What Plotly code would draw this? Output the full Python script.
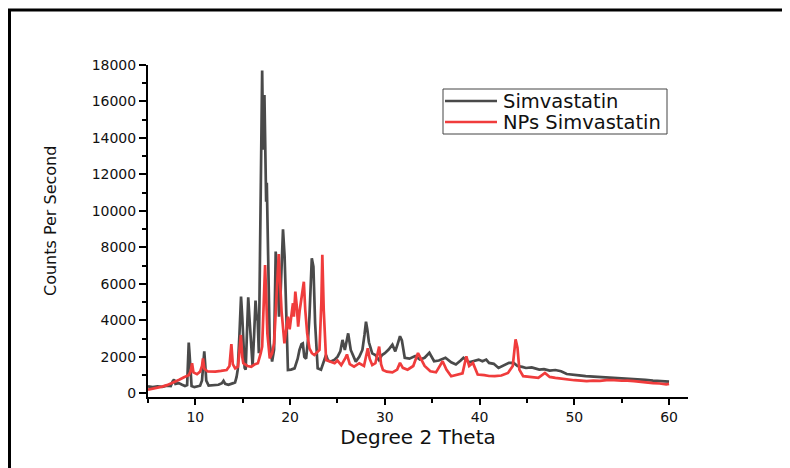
import plotly.graph_objects as go

# ---- data ----
simva_x = [5.0, 5.5, 6.0, 6.5, 7.0, 7.4, 7.6, 7.75, 7.9, 8.25, 8.6, 8.9, 9.13, 9.22, 9.30, 9.38, 9.48, 9.6, 9.9,
           10.17, 10.5, 10.7, 10.85, 10.94, 11.05, 11.15, 11.4, 11.8, 12.44, 12.8, 12.97, 13.15, 13.49, 14.0, 14.19,
           14.35, 14.47, 14.65, 14.82, 14.95, 15.06, 15.2, 15.31, 15.45, 15.58, 15.7, 15.83, 16.04, 16.2, 16.35,
           16.5, 16.56, 16.70, 16.84, 16.95, 17.05, 17.12, 17.19, 17.29, 17.40, 17.47, 17.54, 17.68, 17.85, 18.10,
           18.31, 18.48, 18.58, 18.66, 18.83, 19.01, 19.25, 19.42, 19.60, 19.77, 20.1, 20.47, 20.8, 20.99, 21.2,
           21.34, 21.5, 21.69, 21.9, 22.04, 22.29, 22.46, 22.64, 22.91, 23.26, 23.5, 23.79, 24.0, 24.31, 24.7,
           25.01, 25.3, 25.53, 25.78, 26.0, 26.13, 26.40, 26.93, 27.3, 27.63, 27.85, 28.01, 28.15, 28.32, 28.67,
           29.0, 29.37, 29.7, 30.0, 30.4, 30.8, 31.1, 31.35, 31.6, 31.8, 32.1, 32.6, 33.2, 33.7, 34.2, 34.7, 35.2,
           35.7, 36.4, 37.0, 37.5, 38.0, 38.3, 38.9, 39.5, 39.9, 40.3, 40.7, 41.0, 41.5, 42.0, 42.5, 43.1, 43.6,
           44.0, 44.5, 44.9, 45.5, 46.3, 46.8, 47.4, 48.0, 48.6, 49.2, 49.8, 50.5, 51.2, 52.0, 52.8, 53.6, 54.4,
           55.2, 56.0, 56.8, 57.5, 58.3, 58.9, 59.5, 60.0]
simva_y = [380, 340, 390, 360, 420, 400, 650, 760, 520, 560, 470, 400, 450, 1500, 2780, 2200, 1000, 400, 340,
           370, 420, 700, 1900, 2300, 1500, 700, 420, 440, 470, 560, 690, 520, 470, 560, 600,
           900, 1300, 3200, 5300, 4200, 2400, 1400, 1300, 3000, 5270, 4200, 2900, 1500, 3200, 5080,
           4000, 4300, 2200, 9140, 14500, 17700, 15000, 13350, 16360, 11520, 10500, 11550, 7130, 2740, 1740,
           2400, 7770, 6800, 7130, 4200, 5670, 8990, 7500, 3660, 1280, 1300, 1370, 1900, 2380, 2700,
           2740, 2000, 1900, 3000, 4200, 7400, 6950, 3840, 1370, 1300, 1700, 2100, 1800, 1750, 1850,
           2010, 2300, 2930, 2380, 2900, 3290, 2380, 1740, 2000, 2380, 3200, 3930, 3500, 2800, 2190,
           2100, 1830, 2100, 2200, 2400, 2670, 2300, 2700, 3130, 2900, 1950, 1900, 2040, 1850, 1950, 2220, 1760,
           1800, 1950, 1700, 1580, 1800, 1950, 1700, 1800, 1850, 1760, 1850, 1670, 1620, 1390, 1500, 1670, 1670,
           1500, 1450, 1390, 1420, 1300, 1330, 1250, 1280, 1210, 1060, 1040, 990, 940, 920, 890, 850, 840,
           800, 790, 790, 740, 700, 690, 660, 640]

nps_x = [5.0, 5.5, 6.0, 6.5, 7.0, 7.5, 7.9, 8.3, 8.8, 9.3, 9.5, 9.65, 9.8, 10.17, 10.5, 10.7, 10.8, 10.95, 11.3,
         12.1, 12.7, 13.3, 13.6, 13.8, 13.95, 14.2, 14.5, 14.65, 14.8, 14.95, 15.06, 15.5, 15.9, 16.3, 16.6, 16.9,
         17.05, 17.19, 17.36, 17.5, 17.6, 17.85, 18.1, 18.31, 18.5, 18.66, 18.8, 18.95, 19.1, 19.4, 19.6, 19.77,
         19.95, 20.15, 20.3, 20.4, 20.55, 20.7, 20.85, 21.0, 21.15, 21.3, 21.45, 21.6, 21.8, 22.04, 22.3, 22.56,
         22.9, 23.1, 23.3, 23.4, 23.55, 23.8, 24.2, 24.7, 25.0, 25.4, 25.8, 26.0, 26.3, 26.75, 27.3, 27.8, 28.2,
         28.4, 28.67, 29.0, 29.4, 29.6, 29.8, 30.2, 30.8, 31.3, 31.6, 31.9, 32.4, 33.0, 33.5, 33.8, 34.2, 34.8,
         35.4, 36.1, 36.5, 37.0, 37.6, 38.2, 38.6, 38.9, 39.3, 39.8, 40.5, 41.0, 41.6, 42.3, 43.0, 43.5, 43.8,
         44.0, 44.2, 44.6, 45.3, 46.2, 46.9, 47.4, 48.0, 48.6, 49.2, 50.0, 50.7, 51.3, 52.0, 52.7, 53.4, 54.2,
         55.0, 55.6, 56.3, 57.0, 57.7, 58.3, 59.0, 59.7, 60.0]
nps_y = [200, 250, 300, 370, 450, 550, 640, 750, 880, 1000, 1200, 1650, 1150, 1050, 1190, 1500, 1920, 1350, 1200,
         1190, 1230, 1280, 1500, 2700, 1600, 1370, 1460, 2200, 3200, 2000, 1650, 1500, 1460, 1600, 1650, 2200,
         2560, 4570, 7040, 5000, 3290, 1920, 2200, 2740, 4800, 6400, 7640, 6030, 4500, 2740, 3500, 4200,
         3510, 4500, 4940, 4200, 5580, 4800, 3660, 4500, 5120, 5700, 6120, 4570, 3300, 2470, 2200, 2100,
         2300, 2380, 5000, 7590, 4570, 1830, 1750, 1650, 1800, 1550, 1900, 2130, 1600, 1460, 1650, 1500, 2470,
         1900, 1550, 1650, 2560, 1600, 1280, 1190, 1150, 1300, 1670, 1400, 1300, 1500, 2210, 1900, 1500, 1210,
         1150, 1760, 1300, 940, 1000, 1100, 2030, 1500, 1670, 1030, 1000, 950, 940, 980, 1120, 1500, 2960,
         2500, 1300, 940, 900, 850, 1120, 900, 850, 800, 760, 720, 700, 670, 700, 680, 720, 730,
         690, 700, 670, 620, 580, 560, 540, 490, 520]

series_names = ["Simvastatin", "NPs Simvastatin"]
series_colors = ["#4a4a4a", "#f03c3c"]

x_title = "Degree 2 Theta"
y_title = "Counts Per Second"

FONT = "DejaVu Sans"

fig = go.Figure()
fig.add_trace(go.Scatter(x=simva_x, y=simva_y, mode="lines", name=series_names[0],
                         line=dict(color=series_colors[0], width=2.7), showlegend=False))
fig.add_trace(go.Scatter(x=nps_x, y=nps_y, mode="lines", name=series_names[1],
                         line=dict(color=series_colors[1], width=2.7), showlegend=False))

# page is rendered with an 8px body offset; margins compensate for it
OFF = 8
W, H = 790 - OFF, 468 - OFF
L, T = 148 - OFF, 65 - OFF
pw, ph = 540, 332
R = W - L - pw
B = H - T - ph


def px_x(p):  # page pixel -> paper x
    return (p - OFF - L) / pw


def px_y(p):  # page pixel -> paper y
    return (T + ph - (p - OFF)) / ph


# outer frame: top and left edges only
fx0 = (1.5 - L) / pw
fy1 = (T + ph - 2) / ph
fig.add_shape(type="line", xref="paper", yref="paper", x0=fx0 - 0.003, x1=px_x(1200), y0=fy1, y1=fy1,
              line=dict(color="black", width=3), layer="below")
fig.add_shape(type="line", xref="paper", yref="paper", x0=fx0, x1=fx0, y0=px_y(900), y1=fy1,
              line=dict(color="black", width=3), layer="below")

# legend box
fig.add_shape(type="rect", xref="paper", yref="paper",
              x0=px_x(443), x1=px_x(667), y0=px_y(134), y1=px_y(89),
              line=dict(color="#444444", width=1), fillcolor="white")
for i, (nm, col) in enumerate(zip(series_names, series_colors)):
    yy = 101 + i * 21
    fig.add_shape(type="line", xref="paper", yref="paper",
                  x0=px_x(445), x1=px_x(497), y0=px_y(yy), y1=px_y(yy),
                  line=dict(color=col, width=2.5))
    fig.add_annotation(xref="paper", yref="paper", x=px_x(501), y=px_y(yy),
                       text=nm, showarrow=False, xanchor="left", yanchor="middle",
                       font=dict(family=FONT, size=19.5, color="#111111"))

# y axis title
fig.add_annotation(xref="paper", yref="paper", x=px_x(50), y=px_y(221), text=y_title,
                   textangle=-90, showarrow=False, xanchor="center", yanchor="middle",
                   font=dict(family=FONT, size=16, color="#111111"))

axis_common = dict(showline=True, linecolor="black", linewidth=2, ticks="outside",
                   tickcolor="black", tickwidth=1.5, showgrid=False, zeroline=False,
                   tickformat="d",
                   tickfont=dict(family=FONT, size=14, color="#111111"))

fig.update_layout(
    width=W, height=H,
    margin=dict(l=L, r=R, t=T, b=B),
    paper_bgcolor="white", plot_bgcolor="white",
    font=dict(family=FONT, color="#111111"),
    xaxis=dict(range=[5, 62], tick0=0, dtick=10, ticklen=6,
               minor=dict(dtick=5, ticklen=4, ticks="outside", tickcolor="black", tickwidth=1.5),
               title=dict(text=x_title, font=dict(family=FONT, size=20, color="#111111"), standoff=6),
               **axis_common),
    yaxis=dict(range=[-200, 18000], tick0=0, dtick=2000, ticklen=7,
               minor=dict(dtick=1000, ticklen=4, ticks="outside", tickcolor="black", tickwidth=1.5),
               **axis_common),
)

fig.write_html("out.html", config={"displayModeBar": False})
